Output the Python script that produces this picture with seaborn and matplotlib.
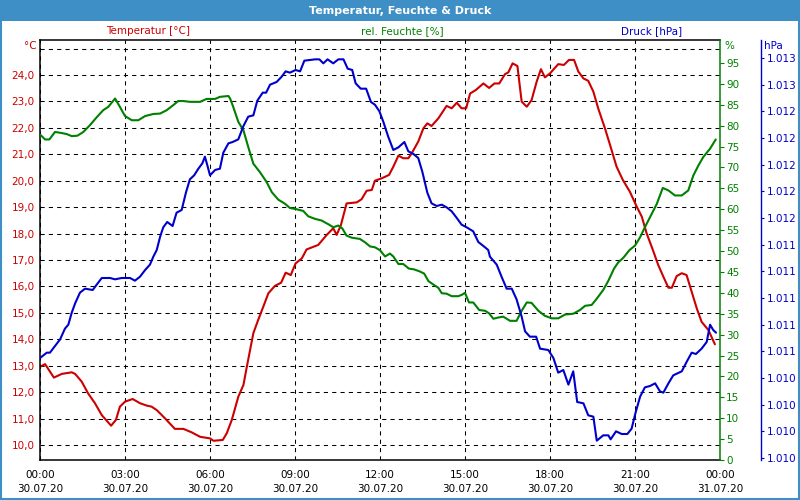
import numpy as np
import pandas as pd
import matplotlib
matplotlib.use("Agg")
import matplotlib.pyplot as plt
from matplotlib.patches import Rectangle
from matplotlib.ticker import FixedLocator, MultipleLocator
import seaborn as sns

# ---------------- data ----------------
temp_hours = [0.00, 0.18, 0.49, 0.77, 1.12, 1.24, 1.47, 1.70, 1.94, 2.18, 2.51, 2.68, 2.82, 3.00,
              3.27, 3.53, 3.77, 3.94, 4.12, 4.41, 4.76, 5.06, 5.35, 5.65, 6.00, 6.12, 6.45, 6.59,
              6.77, 7.00, 7.18, 7.30, 7.53, 7.70, 7.88, 8.06, 8.29, 8.51, 8.67, 8.85, 9.02, 9.24,
              9.41, 9.82, 10.12, 10.35, 10.47, 10.62, 10.82, 11.18, 11.35, 11.53, 11.71, 11.82,
              12.06, 12.32, 12.47, 12.65, 12.82, 13.00, 13.12, 13.35, 13.53, 13.67, 13.82, 14.06,
              14.35, 14.53, 14.71, 14.88, 15.04, 15.18, 15.38, 15.65, 15.85, 16.04, 16.21, 16.41,
              16.53, 16.68, 16.85, 17.00, 17.18, 17.35, 17.53, 17.68, 17.82, 18.00, 18.29, 18.49,
              18.67, 18.85, 19.00, 19.18, 19.35, 19.53, 19.70, 19.94, 20.12, 20.35, 20.57, 20.82,
              21.06, 21.24, 21.41, 21.62, 21.82, 22.00, 22.18, 22.30, 22.47, 22.65, 22.82, 23.00,
              23.18, 23.35, 23.59, 23.82]
temp_values = [12.96, 13.06, 12.55, 12.69, 12.75, 12.69, 12.40, 11.95, 11.58, 11.13, 10.73, 10.95,
               11.45, 11.64, 11.74, 11.58, 11.49, 11.45, 11.32, 11.01, 10.61, 10.61, 10.48, 10.31,
               10.25, 10.16, 10.19, 10.44, 10.95, 11.83, 12.27, 12.96, 14.23, 14.73, 15.23, 15.74,
               16.02, 16.14, 16.52, 16.43, 16.87, 17.06, 17.40, 17.57, 17.95, 18.20, 17.95, 18.32,
               19.14, 19.18, 19.30, 19.62, 19.65, 20.00, 20.09, 20.22, 20.53, 20.95, 20.85, 20.85,
               21.04, 21.48, 21.98, 22.17, 22.07, 22.36, 22.83, 22.74, 22.95, 22.74, 22.74, 23.30,
               23.43, 23.68, 23.51, 23.68, 23.68, 24.03, 24.10, 24.44, 24.34, 22.99, 22.80, 23.05,
               23.75, 24.22, 23.91, 24.06, 24.41, 24.38, 24.57, 24.57, 24.13, 23.87, 23.78, 23.37,
               22.74, 21.98, 21.35, 20.53, 20.03, 19.58, 19.02, 18.64, 18.01, 17.41, 16.81, 16.37,
               15.95, 15.95, 16.39, 16.50, 16.43, 15.80, 15.17, 14.66, 14.35, 13.81]

hum_hours = [0.00, 0.18, 0.33, 0.53, 0.71, 0.94, 1.12, 1.32, 1.53, 1.76, 2.00, 2.23, 2.41, 2.65,
             2.82, 3.00, 3.24, 3.47, 3.71, 4.00, 4.24, 4.47, 4.70, 4.88, 5.06, 5.29, 5.65, 5.88,
             6.18, 6.35, 6.65, 6.71, 6.82, 7.00, 7.18, 7.35, 7.53, 7.76, 8.00, 8.18, 8.41, 8.65,
             8.82, 9.06, 9.29, 9.47, 9.71, 9.94, 10.18, 10.35, 10.53, 10.67, 10.82, 11.00, 11.29,
             11.47, 11.65, 11.82, 12.00, 12.18, 12.35, 12.47, 12.65, 12.82, 13.02, 13.21, 13.41,
             13.56, 13.71, 13.88, 14.06, 14.18, 14.35, 14.53, 14.76, 14.88, 15.00, 15.14, 15.29,
             15.50, 15.71, 15.85, 16.00, 16.18, 16.35, 16.59, 16.82, 17.00, 17.18, 17.35, 17.59,
             17.82, 18.06, 18.29, 18.53, 18.82, 19.06, 19.24, 19.47, 19.65, 19.88, 20.06, 20.26,
             20.41, 20.59, 20.80, 21.00, 21.18, 21.35, 21.53, 21.77, 21.98, 22.18, 22.41, 22.65,
             22.88, 23.06, 23.24, 23.41, 23.65, 23.85]
hum_values = [77.9, 76.7, 76.7, 78.5, 78.3, 78.0, 77.5, 77.6, 78.5, 80.1, 82.0, 83.7, 84.5, 86.5,
              84.5, 82.3, 81.3, 81.3, 82.3, 82.8, 82.9, 83.7, 84.9, 85.9, 85.9, 85.7, 85.7, 86.4,
              86.4, 86.9, 87.1, 86.5, 84.5, 80.9, 78.9, 74.9, 70.9, 68.9, 66.5, 64.1, 62.3, 61.3,
              60.3, 60.0, 59.6, 58.3, 57.7, 57.3, 56.4, 55.7, 56.1, 55.4, 53.7, 53.2, 52.9,
              52.1, 51.1, 50.9, 50.2, 48.7, 49.4, 48.7, 46.9, 46.9, 45.8, 45.6, 45.1,
              44.6, 42.8, 42.0, 41.2, 39.9, 39.8, 39.2, 39.2, 39.5, 40.0, 37.7, 37.7,
              35.9, 35.7, 35.1, 33.8, 34.1, 34.3, 33.3, 33.3, 35.7, 37.7, 37.6, 35.7,
              34.5, 33.9, 33.9, 34.8, 35.0, 35.9, 36.9, 37.1, 38.6, 40.7, 42.9, 45.8,
              47.3, 48.4, 50.2, 51.3, 53.3, 55.7, 58.1, 61.3, 65.1, 64.5, 63.3, 63.3,
              64.5, 68.1, 70.5, 72.5, 74.5, 76.7]

pres_hours = [0.00, 0.24, 0.35, 0.53, 0.71, 0.88, 1.00, 1.12, 1.24, 1.41, 1.59, 1.86, 2.00, 2.18,
              2.47, 2.65, 2.88, 3.18, 3.35, 3.53, 3.71, 3.88, 4.00, 4.12, 4.24, 4.35, 4.49, 4.68,
              4.82, 5.00, 5.15, 5.29, 5.44, 5.59, 5.73, 5.82, 5.90, 6.00, 6.18, 6.35, 6.47, 6.65,
              6.80, 7.00, 7.18, 7.35, 7.53, 7.67, 7.86, 7.98, 8.12, 8.35, 8.53, 8.67, 8.82, 9.02,
              9.18, 9.33, 9.71, 9.86, 10.00, 10.15, 10.35, 10.53, 10.71, 10.86, 11.02, 11.14,
              11.32, 11.51, 11.68, 11.82, 11.98, 12.12, 12.29, 12.47, 12.65, 12.86, 13.00, 13.18,
              13.35, 13.49, 13.67, 13.82, 14.00, 14.18, 14.35, 14.53, 14.71, 14.88, 15.06, 15.29,
              15.47, 15.65, 15.82, 15.88, 16.12, 16.29, 16.47, 16.65, 16.82, 17.00, 17.12, 17.29,
              17.51, 17.65, 17.94, 18.12, 18.29, 18.47, 18.65, 18.82, 18.96, 19.18, 19.35, 19.53,
              19.65, 19.88, 20.06, 20.14, 20.33, 20.53, 20.73, 20.88, 21.02, 21.18, 21.35, 21.53,
              21.71, 21.88, 22.00, 22.18, 22.35, 22.65, 22.82, 23.00, 23.15, 23.35, 23.53, 23.65,
              23.76, 23.86]
pres_values = [1010.45, 1010.49, 1010.49, 1010.54, 1010.59, 1010.67, 1010.70, 1010.79, 1010.86,
               1010.94, 1010.97, 1010.96, 1011.00, 1011.05, 1011.05, 1011.04, 1011.05, 1011.05,
               1011.03, 1011.06, 1011.11, 1011.15, 1011.21, 1011.26, 1011.36, 1011.43, 1011.47,
               1011.44, 1011.54, 1011.56, 1011.69, 1011.79, 1011.82, 1011.87, 1011.91, 1011.96,
               1011.90, 1011.82, 1011.86, 1011.87, 1011.99, 1012.06, 1012.07, 1012.09, 1012.19,
               1012.26, 1012.27, 1012.38, 1012.44, 1012.44, 1012.50, 1012.52, 1012.56, 1012.60,
               1012.59, 1012.61, 1012.60, 1012.68, 1012.69, 1012.69, 1012.66, 1012.69, 1012.66,
               1012.69, 1012.69, 1012.62, 1012.61, 1012.51, 1012.47, 1012.47, 1012.37, 1012.35,
               1012.30, 1012.22, 1012.11, 1012.01, 1012.03, 1012.07, 1012.00, 1011.98, 1011.95,
               1011.85, 1011.69, 1011.61, 1011.59, 1011.60, 1011.58, 1011.55, 1011.50, 1011.45,
               1011.43, 1011.40, 1011.32, 1011.29, 1011.26, 1011.21, 1011.15, 1011.06, 1010.97,
               1010.97, 1010.89, 1010.76, 1010.65, 1010.61, 1010.61, 1010.52, 1010.51, 1010.45,
               1010.34, 1010.36, 1010.25, 1010.35, 1010.12, 1010.11, 1010.02, 1010.01, 1009.83,
               1009.87, 1009.87, 1009.84, 1009.90, 1009.88, 1009.88, 1009.92, 1010.04, 1010.16,
               1010.23, 1010.24, 1010.26, 1010.20, 1010.19, 1010.26, 1010.32, 1010.35, 1010.42,
               1010.49, 1010.48, 1010.52, 1010.57, 1010.70, 1010.66, 1010.64]

x_tick_hours = [0, 3, 6, 9, 12, 15, 18, 21, 24]
x_tick_labels = ["00:00\n30.07.20", "03:00\n30.07.20", "06:00\n30.07.20", "09:00\n30.07.20",
                 "12:00\n30.07.20", "15:00\n30.07.20", "18:00\n30.07.20", "21:00\n30.07.20",
                 "00:00\n31.07.20"]
temp_ticks = [10, 11, 12, 13, 14, 15, 16, 17, 18, 19, 20, 21, 22, 23, 24, 25]
hum_ticks = [0, 5, 10, 15, 20, 25, 30, 35, 40, 45, 50, 55, 60, 65, 70, 75, 80, 85, 90, 95]
pres_ticks = [1009.7, 1009.9, 1010.1, 1010.3, 1010.5, 1010.7, 1010.9, 1011.1, 1011.3, 1011.5,
              1011.7, 1011.9, 1012.1, 1012.3, 1012.5, 1012.7]
pres_tick_labels = ["1.010", "1.010", "1.010", "1.010", "1.011", "1.011", "1.011", "1.011",
                    "1.011", "1.012", "1.012", "1.012", "1.012", "1.012", "1.013", "1.013"]

title = "Temperatur, Feuchte & Druck"
series_names = ["Temperatur [°C]", "rel. Feuchte [%]", "Druck [hPa]"]

# ---------------- style ----------------
sns.set_style("white")
plt.rcParams["font.family"] = ["DejaVu Sans"]
plt.rcParams["font.size"] = 7.5

RED = "#cc0000"
GREEN = "#008000"
BLUE = "#0000cc"
BAR = "#3d8fc6"

df_t = pd.DataFrame({"h": temp_hours, "v": temp_values})
df_h = pd.DataFrame({"h": hum_hours, "v": hum_values})
df_p = pd.DataFrame({"h": pres_hours, "v": pres_values})

fig = plt.figure(figsize=(8, 5), dpi=100, facecolor="white")
ax = fig.add_axes([0.05, 0.08, 0.85, 0.84])
ax2 = ax.twinx()
ax3 = ax.twinx()

sns.lineplot(data=df_t, x="h", y="v", ax=ax, color=RED, linewidth=1.5)
sns.lineplot(data=df_h, x="h", y="v", ax=ax2, color=GREEN, linewidth=1.5)
sns.lineplot(data=df_p, x="h", y="v", ax=ax3, color=BLUE, linewidth=1.5)

for a in (ax, ax2, ax3):
    a.set_xlabel("")
    a.set_ylabel("")
    a.set_xlim(0, 24)

ax.set_ylim(9.432, 25.324)
ax2.set_ylim(0, 100.5)
ax3.set_ylim(1009.685, 1012.835)

# grid
ax.yaxis.set_major_locator(FixedLocator(temp_ticks))
ax.set_yticklabels([f"{t:.1f}".replace(".", ",") for t in temp_ticks[:-1]] + [""])
ax.xaxis.set_major_locator(FixedLocator(x_tick_hours))
ax.set_xticklabels(x_tick_labels, linespacing=1.55)
ax.xaxis.set_minor_locator(MultipleLocator(1))
ax.grid(True, which="major", color="black", linestyle=(0, (4, 4)), linewidth=0.75)
ax.tick_params(axis="y", length=0, pad=4, labelcolor=RED, labelsize=7.5)
ax.tick_params(axis="x", which="both", direction="in", length=4, width=0.8, color="black",
               pad=7, labelsize=7.5, labelcolor="black")

for s in ("left", "bottom", "top"):
    ax.spines[s].set_color("black")
    ax.spines[s].set_linewidth(1.1)
ax.spines["right"].set_visible(False)

# humidity axis
ax2.yaxis.set_major_locator(FixedLocator(hum_ticks))
ax2.set_yticklabels([str(t) for t in hum_ticks])
ax2.tick_params(axis="y", length=3, width=0.8, color=GREEN, pad=1.5, labelcolor=GREEN, labelsize=7.5)
ax2.spines["right"].set_color(GREEN)
ax2.spines["right"].set_linewidth(1.1)
for s in ("left", "top", "bottom"):
    ax2.spines[s].set_visible(False)
ax2.grid(False)

# pressure axis
ax3.spines["right"].set_position(("axes", (761 - 40) / 680))
ax3.spines["right"].set_color(BLUE)
ax3.spines["right"].set_linewidth(1.0)
for s in ("left", "top", "bottom"):
    ax3.spines[s].set_visible(False)
ax3.yaxis.set_major_locator(FixedLocator(pres_ticks))
ax3.set_yticklabels(pres_tick_labels)
ax3.tick_params(axis="y", length=2.5, width=0.8, color=BLUE, pad=2, labelcolor=BLUE, labelsize=7.5)
ax3.grid(False)
ax2.tick_params(axis="x", length=0)
ax3.tick_params(axis="x", length=0)

# unit labels
fig.text(37 / 800, 1 - 46 / 500, "°C", color=RED, ha="right", va="center", fontsize=7.5)
fig.text(724 / 800, 1 - 46 / 500, "%", color=GREEN, ha="left", va="center", fontsize=7.5)
fig.text(764 / 800, 1 - 46 / 500, "hPa", color=BLUE, ha="left", va="center", fontsize=7.5)

# series headers
for name, xc, col in zip(series_names, [148, 402, 652], [RED, GREEN, BLUE]):
    fig.text(xc / 800, 1 - 31 / 500, name, color=col, ha="center", va="center", fontsize=7.5)

# title bar and frame
fig.patches.append(Rectangle((0, 1 - 21 / 500), 1, 21 / 500, transform=fig.transFigure,
                             facecolor=BAR, edgecolor="none", zorder=0))
fig.patches.append(Rectangle((0.001, 0.002), 0.998, 0.996, transform=fig.transFigure,
                             facecolor="none", edgecolor=BAR, linewidth=1.5, zorder=1))
fig.text(0.5, 1 - 10.5 / 500, title, color="white", ha="center", va="center",
         fontsize=8, fontweight="bold")

fig.savefig("out.png", dpi=100, facecolor="white")
